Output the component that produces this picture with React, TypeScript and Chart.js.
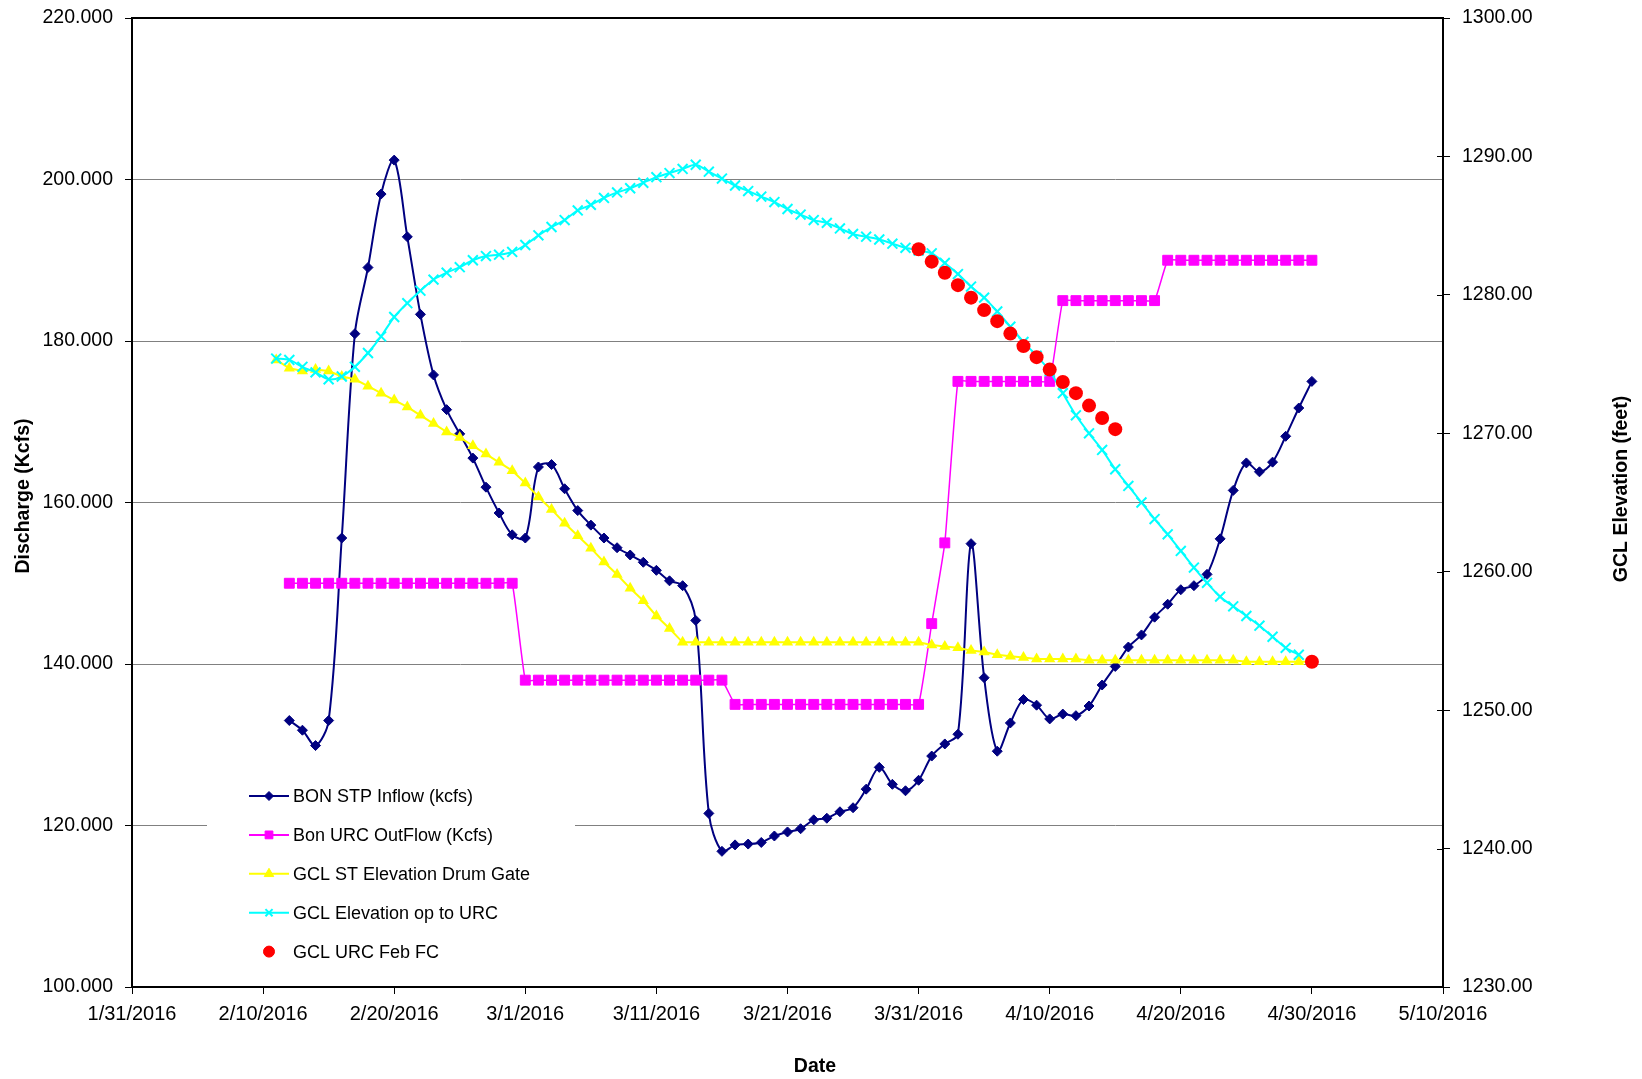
import React, { useEffect, useRef } from 'react';
import { Chart, registerables } from 'chart.js';
import { drawPoint } from 'chart.js/helpers';

Chart.register(...registerables);

const FONT = '"Liberation Sans", Arial, Helvetica, sans-serif';

// ---- Data ----
const dates = [
  '2/11/2016', '2/12/2016', '2/13/2016', '2/14/2016', '2/15/2016', '2/16/2016', '2/17/2016', '2/18/2016', '2/19/2016', '2/20/2016',
  '2/21/2016', '2/22/2016', '2/23/2016', '2/24/2016', '2/25/2016', '2/26/2016', '2/27/2016', '2/28/2016', '2/29/2016',
  '3/1/2016', '3/2/2016', '3/3/2016', '3/4/2016', '3/5/2016', '3/6/2016', '3/7/2016', '3/8/2016', '3/9/2016', '3/10/2016',
  '3/11/2016', '3/12/2016', '3/13/2016', '3/14/2016', '3/15/2016', '3/16/2016', '3/17/2016', '3/18/2016', '3/19/2016', '3/20/2016',
  '3/21/2016', '3/22/2016', '3/23/2016', '3/24/2016', '3/25/2016', '3/26/2016', '3/27/2016', '3/28/2016', '3/29/2016', '3/30/2016', '3/31/2016',
  '4/1/2016', '4/2/2016', '4/3/2016', '4/4/2016', '4/5/2016', '4/6/2016', '4/7/2016', '4/8/2016', '4/9/2016', '4/10/2016',
  '4/11/2016', '4/12/2016', '4/13/2016', '4/14/2016', '4/15/2016', '4/16/2016', '4/17/2016', '4/18/2016', '4/19/2016', '4/20/2016',
  '4/21/2016', '4/22/2016', '4/23/2016', '4/24/2016', '4/25/2016', '4/26/2016', '4/27/2016', '4/28/2016', '4/29/2016', '4/30/2016',
];

const bonStpInflow = [
  null, 133.0, 131.8, 129.9, 133.0, 155.6, 180.9, 189.1, 198.2, 202.4,
  192.9, 183.3, 175.8, 171.5, 168.5, 165.5, 161.9, 158.7, 156.0,
  155.6, 164.4, 164.7, 161.7, 159.0, 157.2, 155.6, 154.4, 153.5, 152.6,
  151.6, 150.3, 149.7, 145.4, 121.5, 116.8, 117.6, 117.7, 117.9, 118.7,
  119.2, 119.6, 120.7, 120.9, 121.7, 122.2, 124.5, 127.2, 125.1, 124.3, 125.6,
  128.6, 130.1, 131.3, 154.9, 138.3, 129.2, 132.7, 135.6, 134.9, 133.2,
  133.8, 133.6, 134.8, 137.4, 139.7, 142.1, 143.6, 145.8, 147.4, 149.2,
  149.7, 151.1, 155.5, 161.5, 164.9, 163.8, 165.0, 168.2, 171.7, 175.0,
];

const bonUrcOutflow = [
  null, 150, 150, 150, 150, 150, 150, 150, 150, 150,
  150, 150, 150, 150, 150, 150, 150, 150, 150,
  138, 138, 138, 138, 138, 138, 138, 138, 138, 138,
  138, 138, 138, 138, 138, 138, 135, 135, 135, 135,
  135, 135, 135, 135, 135, 135, 135, 135, 135, 135, 135,
  145, 155, 175, 175, 175, 175, 175, 175, 175, 175,
  185, 185, 185, 185, 185, 185, 185, 185, 190, 190,
  190, 190, 190, 190, 190, 190, 190, 190, 190, 190,
];

const gclDrumGate = [
  1275.3, 1274.7, 1274.5, 1274.6, 1274.5, 1274.1, 1273.9, 1273.4, 1272.9, 1272.4,
  1271.9, 1271.3, 1270.7, 1270.1, 1269.7, 1269.1, 1268.5, 1267.9, 1267.3,
  1266.4, 1265.4, 1264.5, 1263.5, 1262.6, 1261.7, 1260.7, 1259.8, 1258.8, 1257.9,
  1256.8, 1255.9, 1254.9, 1254.9, 1254.9, 1254.9, 1254.9, 1254.9, 1254.9, 1254.9,
  1254.9, 1254.9, 1254.9, 1254.9, 1254.9, 1254.9, 1254.9, 1254.9, 1254.9, 1254.9, 1254.9,
  1254.7, 1254.6, 1254.5, 1254.3, 1254.2, 1254.0, 1253.9, 1253.8, 1253.7, 1253.7,
  1253.7, 1253.7, 1253.6, 1253.6, 1253.6, 1253.6, 1253.6, 1253.6, 1253.6, 1253.6,
  1253.6, 1253.6, 1253.6, 1253.6, 1253.5, 1253.5, 1253.5, 1253.5, 1253.5, 1253.5,
];

const gclElevUrc = [
  1275.4, 1275.3, 1274.8, 1274.4, 1273.9, 1274.1, 1274.8, 1275.8, 1277.0, 1278.4,
  1279.4, 1280.3, 1281.1, 1281.6, 1282.0, 1282.5, 1282.8, 1282.9, 1283.1,
  1283.6, 1284.3, 1284.9, 1285.4, 1286.1, 1286.5, 1287.0, 1287.4, 1287.7, 1288.1,
  1288.5, 1288.8, 1289.1, 1289.4, 1288.9, 1288.4, 1287.9, 1287.5, 1287.1, 1286.7,
  1286.2, 1285.8, 1285.4, 1285.2, 1284.8, 1284.4, 1284.2, 1284.0, 1283.7, 1283.4, 1283.2,
  1283.0, 1282.3, 1281.5, 1280.6, 1279.8, 1278.8, 1277.7, 1276.6, 1275.6, 1274.5,
  1272.9, 1271.3, 1270.0, 1268.8, 1267.4, 1266.2, 1265.0, 1263.8, 1262.7, 1261.5,
  1260.3, 1259.2, 1258.2, 1257.5, 1256.8, 1256.1, 1255.3, 1254.5, 1254.0, null,
];

const gclUrcFebFc = [
  null, null, null, null, null, null, null, null, null, null,
  null, null, null, null, null, null, null, null, null,
  null, null, null, null, null, null, null, null, null, null,
  null, null, null, null, null, null, null, null, null, null,
  null, null, null, null, null, null, null, null, null, null, 1283.3,
  1282.4, 1281.6, 1280.7, 1279.8, 1278.9, 1278.1, 1277.2, 1276.3, 1275.5, 1274.6,
  1273.7, 1272.9, 1272.0, 1271.1, 1270.3, null, null, null, null, null,
  null, null, null, null, null, null, null, null, null, 1253.5,
];

const seriesNames = [
  'BON STP Inflow (kcfs)',
  'Bon URC OutFlow (Kcfs)',
  'GCL ST Elevation Drum Gate',
  'GCL Elevation op to URC',
  'GCL URC Feb FC',
];

const xTickLabels = [
  '1/31/2016', '2/10/2016', '2/20/2016', '3/1/2016', '3/11/2016', '3/21/2016',
  '3/31/2016', '4/10/2016', '4/20/2016', '4/30/2016', '5/10/2016',
];
const leftTicks = [100, 120, 140, 160, 180, 200, 220];
const rightTicks = [1230, 1240, 1250, 1260, 1270, 1280, 1290, 1300];

const xTitle = 'Date';
const leftTitle = 'Discharge (Kcfs)';
const rightTitle = 'GCL Elevation (feet)';

// ---- helpers ----
const ORIGIN = Date.UTC(2016, 0, 31);
function toDay(s: string): number {
  const [m, d, y] = s.split('/').map(Number);
  return (Date.UTC(y, m - 1, d) - ORIGIN) / 86400000;
}
function pts(values: (number | null)[]) {
  return dates
    .map((d, i) => ({ x: toDay(d), y: values[i] }))
    .filter((p) => p.y !== null);
}

const overlayPlugin = {
  id: 'overlay',
  afterDraw(chart: any) {
    const { ctx, chartArea: a } = chart;
    ctx.save();
    // top border
    ctx.strokeStyle = '#000';
    ctx.lineWidth = 2;
    ctx.beginPath();
    ctx.moveTo(a.left - 1, a.top);
    ctx.lineTo(a.right + 1, a.top);
    ctx.stroke();
    // inner tick marks on right axis
    const y2 = chart.scales.y2;
    ctx.lineWidth = 1;
    y2.ticks.forEach((t: any) => {
      const py = Math.round(y2.getPixelForValue(t.value)) + 0.5;
      ctx.beginPath();
      ctx.moveTo(a.right - 6, py);
      ctx.lineTo(a.right, py);
      ctx.stroke();
    });

    // legend box
    ctx.fillStyle = '#fff';
    ctx.fillRect(207, 778, 368, 192);
    const rowY0 = 796;
    const rowStep = 38.9;
    const legendRadius = [4.5, 5.5, 5.5, 5, 5.5];
    chart.data.datasets.forEach((ds: any, i: number) => {
      const y = rowY0 + i * rowStep;
      if (ds.showLine !== false) {
        ctx.strokeStyle = ds.borderColor;
        ctx.lineWidth = 2;
        ctx.beginPath();
        ctx.moveTo(249, y);
        ctx.lineTo(289, y);
        ctx.stroke();
      }
      ctx.fillStyle = ds.backgroundColor;
      ctx.strokeStyle = ds.borderColor;
      ctx.lineWidth = ds.pointStyle === 'crossRot' ? 2 : 1;
      drawPoint(ctx, { pointStyle: ds.pointStyle, radius: legendRadius[i], borderWidth: ctx.lineWidth, rotation: 0 } as any, 269, y);
      ctx.fillStyle = '#000';
      ctx.font = `18px ${FONT}`;
      ctx.textAlign = 'left';
      ctx.textBaseline = 'middle';
      ctx.fillText(ds.label, 293, y + 1);
    });

    // axis titles
    ctx.fillStyle = '#000';
    ctx.font = `bold 19.5px ${FONT}`;
    ctx.textAlign = 'center';
    ctx.textBaseline = 'middle';
    ctx.fillText(xTitle, 815, 1067);
    ctx.save();
    ctx.translate(24, 496);
    ctx.rotate(-Math.PI / 2);
    ctx.fillText(leftTitle, 0, 0);
    ctx.restore();
    ctx.save();
    ctx.translate(1622, 489);
    ctx.rotate(-Math.PI / 2);
    ctx.fillText(rightTitle, 0, 0);
    ctx.restore();
    ctx.restore();
  },
};

function noPadY(scale: any, width: number) {
  scale.width = width;
  scale.paddingTop = 0;
  scale.paddingBottom = 0;
}

export default function App() {
  const canvasRef = useRef<HTMLCanvasElement | null>(null);

  useEffect(() => {
    document.body.style.margin = '0';
    document.body.style.overflow = 'hidden';
    const canvas = canvasRef.current;
    if (!canvas) return;

    const chart = new Chart(canvas, {
      type: 'line',
      data: {
        datasets: [
          {
            label: seriesNames[0],
            data: pts(bonStpInflow),
            yAxisID: 'y',
            borderColor: '#000080',
            backgroundColor: '#000080',
            borderWidth: 2,
            pointStyle: 'rectRot',
            pointRadius: 5,
            pointBorderWidth: 1,
            tension: 0.33,
            order: 5,
          },
          {
            label: seriesNames[1],
            data: pts(bonUrcOutflow),
            yAxisID: 'y',
            borderColor: '#FF00FF',
            backgroundColor: '#FF00FF',
            borderWidth: 1.5,
            pointStyle: 'rect',
            pointRadius: 7,
            pointBorderWidth: 1,
            tension: 0.12,
            order: 4,
          },
          {
            label: seriesNames[2],
            data: pts(gclDrumGate),
            yAxisID: 'y2',
            borderColor: '#FFFF00',
            backgroundColor: '#FFFF00',
            borderWidth: 2,
            pointStyle: 'triangle',
            pointRadius: 6.5,
            pointBorderWidth: 0,
            tension: 0,
            order: 3,
          },
          {
            label: seriesNames[3],
            data: pts(gclElevUrc),
            yAxisID: 'y2',
            borderColor: '#00FFFF',
            backgroundColor: '#00FFFF',
            borderWidth: 2,
            pointStyle: 'crossRot',
            pointRadius: 7,
            pointBorderWidth: 2,
            tension: 0.3,
            order: 2,
          },
          {
            label: seriesNames[4],
            data: pts(gclUrcFebFc),
            yAxisID: 'y2',
            borderColor: '#FF0000',
            backgroundColor: '#FF0000',
            showLine: false,
            pointStyle: 'circle',
            pointRadius: 7,
            pointBorderWidth: 0,
            order: 1,
          },
        ] as any,
      },
      options: {
        animation: false,
        responsive: false,
        maintainAspectRatio: false,
        events: [],
        layout: { padding: { top: 18, left: 0, right: 0, bottom: 0 } },
        plugins: {
          legend: { display: false },
          tooltip: { enabled: false },
        },
        scales: {
          x: {
            type: 'linear',
            position: 'bottom',
            min: toDay(xTickLabels[0]),
            max: toDay(xTickLabels[xTickLabels.length - 1]),
            afterBuildTicks: (scale: any) => {
              scale.ticks = xTickLabels.map((l) => ({ value: toDay(l) }));
            },
            afterFit: (scale: any) => {
              scale.height = 92;
              scale.paddingLeft = 0;
              scale.paddingRight = 0;
            },
            ticks: {
              autoSkip: false,
              maxRotation: 0,
              minRotation: 0,
              padding: 8,
              color: '#000',
              font: { family: FONT, size: 20 },
              callback: (v: any) => xTickLabels.find((l) => toDay(l) === v) ?? '',
            },
            grid: { drawOnChartArea: false, drawTicks: true, tickLength: 7, tickColor: '#000', color: '#000' },
            border: { display: true, color: '#000', width: 2 },
          },
          y: {
            type: 'linear',
            position: 'left',
            min: leftTicks[0],
            max: leftTicks[leftTicks.length - 1],
            afterBuildTicks: (scale: any) => {
              scale.ticks = leftTicks.map((v) => ({ value: v }));
            },
            afterFit: (scale: any) => noPadY(scale, 132),
            ticks: {
              padding: 12,
              color: '#000',
              font: { family: FONT, size: 19.5 },
              callback: (v: any) => Number(v).toFixed(3),
            },
            grid: { color: '#808080', lineWidth: 1, drawTicks: true, tickLength: 7, tickColor: '#000' },
            border: { display: true, color: '#000', width: 2 },
          },
          y2: {
            type: 'linear',
            position: 'right',
            min: rightTicks[0],
            max: rightTicks[rightTicks.length - 1],
            afterBuildTicks: (scale: any) => {
              scale.ticks = rightTicks.map((v) => ({ value: v }));
            },
            afterFit: (scale: any) => noPadY(scale, 199),
            ticks: {
              padding: 12,
              color: '#000',
              font: { family: FONT, size: 19.5 },
              callback: (v: any) => Number(v).toFixed(2),
            },
            grid: { drawOnChartArea: false, drawTicks: true, tickLength: 7, tickColor: '#000', color: '#000' },
            border: { display: true, color: '#000', width: 2 },
          },
        },
      } as any,
      plugins: [overlayPlugin],
    });

    return () => {
      chart.destroy();
    };
  }, []);

  return (
    <div style={{ width: 1642, height: 1079, background: '#fff' }}>
      <canvas ref={canvasRef} width={1642} height={1079} style={{ display: 'block' }} />
    </div>
  );
}
